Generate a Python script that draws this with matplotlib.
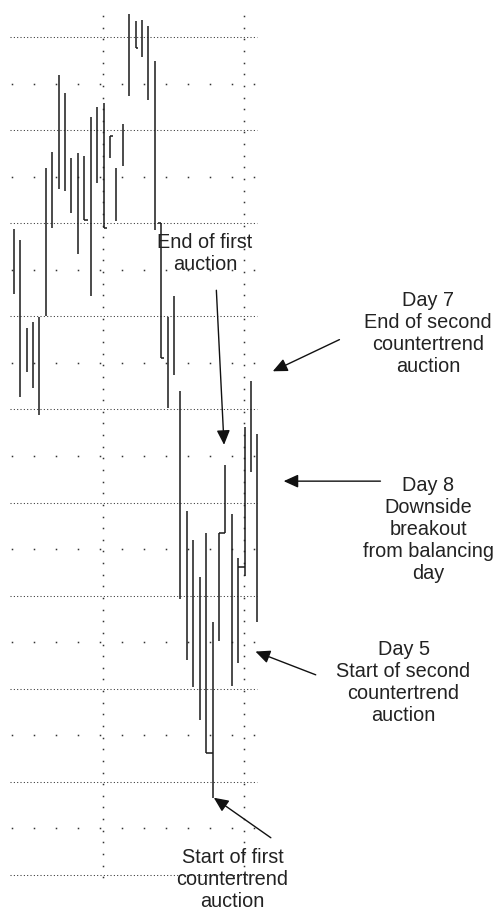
import numpy as np
import matplotlib
matplotlib.use("Agg")
import matplotlib.pyplot as plt

# ==========================================
# Data (bar index, high, low)
# ==========================================

bar_idx = np.arange(39)

highs = [69.4, 68.2, 58.7, 59.4, 59.9, 75.9, 77.7, 85.9, 84.0, 77.0,
         77.5, 77.2, 81.4, 82.5, 82.9, 79.4, 75.9, 80.7, 92.5, 91.7,
         91.8, 91.2, 87.4, 70.0, 59.9, 62.2, 52.0, 39.1, 36.0, 32.0,
         36.7, 27.2, 36.7, 44.0, 38.8, 34.0, 48.1, 53.1, 47.4]

lows = [62.4, 51.3, 54.0, 52.3, 49.4, 60.0, 69.5, 73.7, 73.5, 71.1,
        66.7, 70.3, 62.2, 74.3, 69.5, 77.0, 70.2, 76.1, 83.7, 88.8,
        87.9, 83.2, 69.3, 55.5, 50.2, 53.7, 29.6, 23.1, 20.2, 16.6,
        13.1, 8.3, 25.1, 36.7, 20.3, 22.8, 32.1, 43.3, 27.2]

# small horizontal hooks: (bar, price, length in bars)
hook_bar = [11, 14, 15, 19, 23, 23, 30, 32, 35]
hook_price = [70.3, 69.5, 79.4, 88.8, 70.0, 55.5, 13.1, 36.7, 33.1]
hook_len = [0.6, 0.5, 0.5, 0.45, -0.55, 0.45, 1.0, 1.0, 1.0]

notes = [
    "End of first\nauction",
    "Day 7\nEnd of second\ncountertrend\nauction",
    "Day 8\nDownside\nbreakout\nfrom balancing\nday",
    "Day 5\nStart of second\ncountertrend\nauction",
    "Start of first\ncountertrend\nauction",
]

# text centre, arrow tail, arrow tip (bar units, price units)
note_xy = [(29.8, 66.7), (64.6, 58.2), (64.7, 37.1), (60.8, 20.7), (34.1, -0.5)]
arrow_from = [(31.6, 62.8), (50.8, 57.5), (57.2, 42.3), (47.1, 21.5), (40.1, 4.0)]
arrow_to = [(32.8, 46.2), (40.4, 54.1), (42.1, 42.3), (37.7, 24.0), (31.2, 8.3)]


# ==========================================
# Figure
# ==========================================

X0, DX = 13.8, 6.41      # pixel x of bar 0, pixels per bar
Y0, DY = 875.0, 9.311    # pixel y of price 0, pixels per price unit


def bx(px):
    return (px - X0) / DX


def py(px):
    return (Y0 - px) / DY


fig = plt.figure(figsize=(4.98, 9.11), dpi=100)
ax = fig.add_axes([0, 0, 1, 1])
ax.axis("off")

ax.set_xlim(bx(0), bx(498))
ax.set_ylim(py(911), py(0))

grid_col = "#333333"

# major dotted lines
ax.hlines(np.arange(0, 91, 10), bx(10), bx(257),
          colors=grid_col, linewidth=0.75, linestyles=(0, (1, 2.2)))

# minor dotted rows
row_x = bx(np.arange(11.7, 256, 22))
for p in np.arange(5, 90, 10):
    ax.plot(row_x, np.full_like(row_x, p), 's', color=grid_col,
            markersize=1.1, markeredgewidth=0)

# vertical dotted lines
col_y = np.arange(-0.25, 92.6, 1.25)
for xv in [103.3, 244.3]:
    ax.plot(np.full_like(col_y, bx(xv)), col_y, 's', color=grid_col,
            markersize=1.1, markeredgewidth=0)

# ==========================================
# Bars
# ==========================================

bar_col = "#1a1a1a"

ax.vlines(bar_idx, lows, highs, colors=bar_col, linewidth=1.1)

for b, p, d in zip(hook_bar, hook_price, hook_len):
    ax.hlines(p, b, b + d, colors=bar_col, linewidth=1.1)

# ==========================================
# Annotations
# ==========================================

for txt, xy, a0, a1 in zip(notes, note_xy, arrow_from, arrow_to):
    ax.text(xy[0], xy[1], txt, ha="center", va="center",
            fontsize=14.3, family="Liberation Sans", color="#222222",
            multialignment="center")
    ax.annotate("", xy=a1, xytext=a0,
                arrowprops=dict(arrowstyle="-|>,head_length=0.55,head_width=0.25",
                                color="#111111", lw=1.0, mutation_scale=16,
                                shrinkA=0, shrinkB=0))

fig.savefig("out.png", dpi=100)
